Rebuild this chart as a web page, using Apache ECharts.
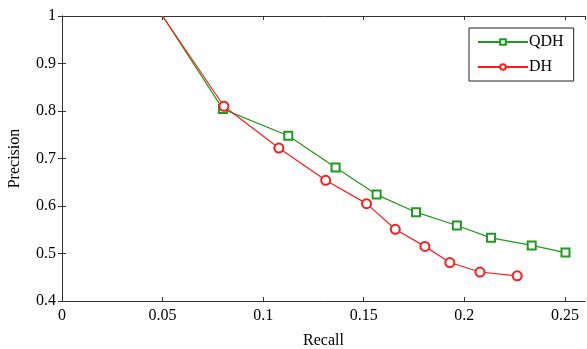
<!DOCTYPE html>
<html>
<head>
<meta charset="utf-8">
<script src="https://cdn.jsdelivr.net/npm/echarts@6/dist/echarts.min.js"></script>
<style>
  html, body { margin: 0; padding: 0; background: #fff; }
  #chart { width: 587px; height: 349px; }
</style>
</head>
<body>
<div id="chart"></div>
<script>
// recall / precision values
var qdhRecall = [0.05, 0.080, 0.1125, 0.136, 0.1564, 0.176, 0.1963, 0.2133, 0.2335, 0.2503]
var qdhPrecision = [1.0, 0.804, 0.748, 0.681, 0.624, 0.587, 0.559, 0.533, 0.517, 0.502]
var dhRecall = [0.05, 0.0805, 0.1078, 0.1311, 0.1514, 0.1657, 0.1804, 0.1928, 0.2078, 0.2263]
var dhPrecision = [1.0, 0.810, 0.722, 0.654, 0.605, 0.551, 0.515, 0.481, 0.461, 0.453]
var seriesNames = ['QDH', 'DH']

var font = 'Liberation Serif'
var green = '#1e9a1e'
var red = '#ff1a1a'

function pairs (xs, ys) {
  return xs.map(function (x, i) {
    var p = { value: [x, ys[i]] }
    // first point sits on the top edge, no marker drawn there
    if (i === 0) p.symbol = 'none'
    return p
  })
}

var myChart = echarts.init(document.getElementById('chart'))

var axisLine = { show: true, lineStyle: { color: '#333', width: 1 } }
var tickIn = { show: true, inside: true, length: 4, lineStyle: { color: '#333' } }

var option = {
  backgroundColor: '#fff',
  animation: false,
  grid: { left: 62, top: 16, right: 2, bottom: 48, containLabel: false, outerBoundsMode: 'none' },
  legend: {
    orient: 'vertical',
    left: 469,
    top: 28,
    width: 108,
    padding: [6, 10, 6, 8],
    itemGap: 9,
    itemWidth: 50,
    itemHeight: 7,
    borderColor: '#222',
    borderWidth: 1,
    backgroundColor: '#fff',
    textStyle: { fontFamily: font, fontSize: 16, color: '#000', padding: [0, 0, 0, -4] },
    data: seriesNames
  },
  xAxis: [{
    type: 'value',
    min: 0,
    max: 0.26,
    interval: 0.05,
    name: 'Recall',
    nameLocation: 'middle',
    nameGap: 32,
    nameTextStyle: { fontFamily: font, fontSize: 16, color: '#000' },
    axisLine: axisLine,
    axisTick: tickIn,
    splitLine: { show: false },
    axisLabel: {
      fontFamily: font, fontSize: 16, color: '#000', margin: 7,
      showMaxLabel: false,
      formatter: function (v) { return +v.toFixed(2) + '' }
    }
  }, {
    type: 'value',
    position: 'top',
    min: 0,
    max: 0.26,
    interval: 0.05,
    axisLine: axisLine,
    axisTick: tickIn,
    axisLabel: { show: false },
    splitLine: { show: false }
  }],
  yAxis: [{
    type: 'value',
    min: 0.4,
    max: 1,
    interval: 0.1,
    name: 'Precision',
    nameLocation: 'middle',
    nameGap: 39,
    nameTextStyle: { fontFamily: font, fontSize: 16, color: '#000' },
    axisLine: axisLine,
    axisTick: tickIn,
    splitLine: { show: false },
    axisLabel: {
      fontFamily: font, fontSize: 16, color: '#000', margin: 6,
      formatter: function (v) { return +v.toFixed(1) + '' }
    }
  }, {
    type: 'value',
    position: 'right',
    min: 0.4,
    max: 1,
    interval: 0.1,
    axisLine: axisLine,
    axisTick: tickIn,
    axisLabel: { show: false },
    splitLine: { show: false }
  }],
  series: [{
    name: seriesNames[0],
    type: 'line',
    data: pairs(qdhRecall, qdhPrecision),
    symbol: 'emptyRect',
    symbolSize: 8,
    color: green,
    lineStyle: { color: green, width: 1.2 },
    itemStyle: { color: green, borderWidth: 1.3 }
  }, {
    name: seriesNames[1],
    type: 'line',
    data: pairs(dhRecall, dhPrecision),
    symbol: 'emptyCircle',
    symbolSize: 9,
    color: red,
    lineStyle: { color: red, width: 1.2 },
    itemStyle: { color: red, borderWidth: 1.3 }
  }]
}

myChart.setOption(option, true)
</script>
</body>
</html>
